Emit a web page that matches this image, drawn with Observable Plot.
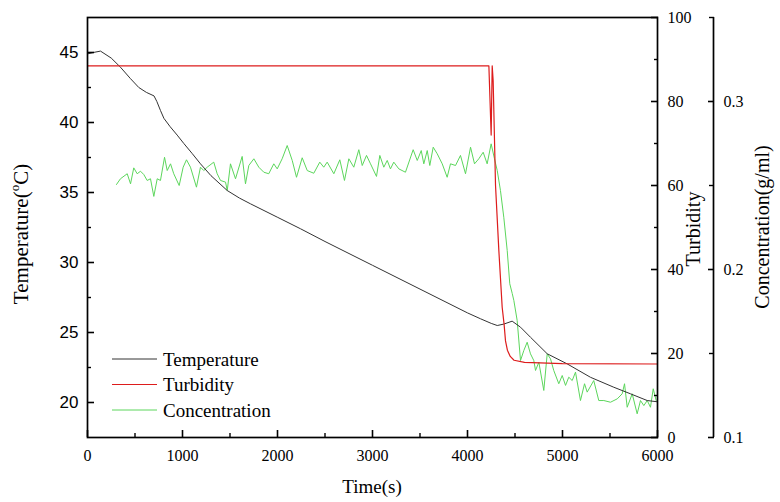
<!DOCTYPE html>
<html><head><meta charset="utf-8">
<script src="https://cdn.jsdelivr.net/npm/d3@7"></script>
<script src="https://cdn.jsdelivr.net/npm/@observablehq/plot@0.6"></script>
<style>
body{margin:0;background:#fff;}
#wrap{position:relative;width:780px;height:502px;}
</style></head><body><div id="wrap"></div>
<script>
// ---- data ----
const tempTime = [0,60,137,250,347,450,540,620,700,730,768,804,870,944,1014,1100,1189,1300,1471,1600,1716,1997,2242,2500,3000,3500,4000,4137,4250,4313,4382,4470,4558,4663,4839,5049,5295,5540,5716,5892,6000];
const tempValues = [44.9,45.0,45.1,44.6,43.95,43.15,42.5,42.15,41.9,41.5,40.86,40.3,39.7,39.1,38.5,37.8,37.05,36.2,35.14,34.6,34.19,33.24,32.41,31.5,29.8,28.1,26.4,25.98,25.65,25.5,25.6,25.81,25.38,24.66,23.48,22.76,21.8,21.09,20.62,20.14,20.05];

const turbTime = [0,4225,4249,4260,4270,4295,4330,4365,4385,4400,4420,4450,4490,4600,5000,6000];
const turbValues = [88.5,88.5,72,88.5,85,60,44.5,31,27,23,20.8,19.3,18.4,17.9,17.6,17.5];

const concTime = [305,347,418,453,487,523,558,593,628,663,698,734,768,811,839,874,908,965,1007,1042,1084,1147,1189,1224,1260,1329,1365,1400,1453,1471,1505,1558,1628,1663,1698,1751,1803,1856,1908,1961,1997,2049,2102,2155,2200,2260,2313,2382,2445,2487,2523,2593,2656,2705,2751,2803,2856,2892,2937,2979,3042,3077,3119,3155,3189,3224,3277,3347,3428,3471,3513,3540,3576,3603,3639,3681,3734,3786,3821,3874,3926,3979,4032,4074,4119,4165,4207,4249,4284,4313,4347,4382,4418,4445,4471,4488,4523,4558,4593,4628,4663,4698,4716,4751,4803,4839,4874,4908,4961,4997,5032,5066,5102,5137,5189,5232,5260,5329,5382,5435,5505,5576,5628,5653,5681,5734,5786,5821,5856,5892,5926,5955,5986];
const concValues = [.2506,.2540,.2570,.2510,.2605,.2570,.2585,.2565,.2530,.2540,.2435,.2540,.2530,.2668,.2589,.2629,.2570,.2500,.2609,.2653,.2609,.2490,.2609,.2589,.2609,.2639,.2570,.2530,.2520,.2470,.2629,.2540,.2673,.2510,.2619,.2659,.2609,.2579,.2570,.2629,.2599,.2659,.2738,.2649,.2549,.2665,.2589,.2573,.2639,.2609,.2639,.2570,.2653,.2530,.2659,.2609,.2713,.2619,.2679,.2629,.2554,.2679,.2609,.2649,.2599,.2639,.2599,.2579,.2713,.2649,.2708,.2629,.2708,.2619,.2728,.2689,.2629,.2549,.2629,.2619,.2679,.2570,.2728,.2629,.2659,.2698,.2629,.2748,.2659,.2589,.2470,.2311,.2113,.1915,.1857,.1815,.1696,.1458,.1518,.1567,.1498,.1458,.1399,.1448,.1280,.1498,.1468,.1399,.1320,.1369,.1310,.1359,.1339,.1389,.1220,.1320,.1270,.1339,.1220,.1220,.1210,.1230,.1260,.1320,.1180,.1260,.1141,.1220,.1190,.1220,.1180,.1290,.1220];

const xTicks = [0,1000,2000,3000,4000,5000,6000];
const xMinorTicks = [500,1500,2500,3500,4500,5500];
const tempTicks = [20,25,30,35,40,45];
const tempMinorTicks = [22.5,27.5,32.5,37.5,42.5];
const turbTicks = [0,20,40,60,80,100];
const turbMinorTicks = [10,30,50,70,90];
const concTicks = [0.1,0.2,0.3];
const concMinorTicks = [0.15,0.25,0.35];

const seriesNames = ["Temperature","Turbidity","Concentration"];
const seriesColors = ["#333333","#dd1c1c","#5cd65c"];

// ---- secondary axes mapped onto the temperature domain ----
const tDom = [17.5,47.5], turbDom = [0,100], concDom = [0.1,0.35];
const fromTurb = v => tDom[0] + (v - turbDom[0]) * (tDom[1]-tDom[0])/(turbDom[1]-turbDom[0]);
const toTurb = y => turbDom[0] + (y - tDom[0]) * (turbDom[1]-turbDom[0])/(tDom[1]-tDom[0]);
const fromConc = v => tDom[0] + (v - concDom[0]) * (tDom[1]-tDom[0])/(concDom[1]-concDom[0]);
const toConc = y => concDom[0] + (y - tDom[0]) * (concDom[1]-concDom[0])/(tDom[1]-tDom[0]);

const temp = tempTime.map((t,i)=>({t, v: tempValues[i]}));
const turb = turbTime.map((t,i)=>({t, v: fromTurb(turbValues[i])}));
const conc = concTime.map((t,i)=>({t, v: fromConc(concValues[i])}));

const serif = "Liberation Serif, Times New Roman, serif";
const sans = "Liberation Sans, Arial, sans-serif";
const blank = () => "";
const concOffset = 56;

const plot = Plot.plot({
  width: 780, height: 502,
  marginLeft: 87, marginRight: 123, marginTop: 17, marginBottom: 65,
  x: {domain: [0,6000]},
  y: {domain: tDom},
  style: {fontFamily: serif, fontSize: "16px", color: "#000", background: "white", overflow: "visible"},
  marks: [
    Plot.line(conc, {x: "t", y: "v", stroke: seriesColors[2], strokeWidth: 1}),
    Plot.line(temp, {x: "t", y: "v", stroke: seriesColors[0], strokeWidth: 1}),
    Plot.line(turb, {x: "t", y: "v", stroke: seriesColors[1], strokeWidth: 1.2}),
    Plot.frame({stroke: "#000", strokeWidth: 1.7}),
    Plot.ruleX([6000], {dx: concOffset, stroke: "#000", strokeWidth: 1.7}),
    // bottom axis: inward ticks + labels
    Plot.axisX(xTicks, {tickSize: 7, dy: -7, tickFormat: blank, label: null, strokeWidth: 1.6}),
    Plot.axisX(xMinorTicks, {tickSize: 4, dy: -4, tickFormat: blank, label: null, strokeWidth: 1.4}),
    Plot.axisX(xTicks, {tickSize: 0, tickPadding: 12, label: null, fontFamily: serif, fontSize: 16, tickFormat: d => String(d)}),
    // left axis
    Plot.axisY(tempTicks, {anchor: "left", tickSize: 7, dx: 7, tickFormat: blank, label: null, strokeWidth: 1.6}),
    Plot.axisY(tempMinorTicks, {anchor: "left", tickSize: 4, dx: 4, tickFormat: blank, label: null, strokeWidth: 1.4}),
    Plot.axisY(tempTicks, {anchor: "left", tickSize: 0, tickPadding: 9, label: null, fontFamily: sans, fontSize: 17}),
    // turbidity axis (right)
    Plot.axisY(turbTicks.map(fromTurb), {anchor: "right", tickSize: 7, dx: -7, tickFormat: blank, label: null, strokeWidth: 1.6}),
    Plot.axisY(turbMinorTicks.map(fromTurb), {anchor: "right", tickSize: 4, dx: -4, tickFormat: blank, label: null, strokeWidth: 1.4}),
    Plot.axisY(turbTicks.map(fromTurb), {anchor: "right", tickSize: 0, tickPadding: 10, label: null, fontFamily: serif, fontSize: 16, tickFormat: d => String(Math.round(toTurb(d)))}),
    // concentration axis (offset right)
    Plot.axisY(concTicks.map(fromConc), {anchor: "right", tickSize: 6, dx: concOffset - 6, tickFormat: blank, label: null, strokeWidth: 1.6}),
    Plot.axisY(concMinorTicks.map(fromConc), {anchor: "right", tickSize: 5, dx: concOffset - 5, tickFormat: blank, label: null, strokeWidth: 1.4}),
    Plot.axisY(concTicks.map(fromConc), {anchor: "right", tickSize: 0, tickPadding: 10, dx: concOffset, label: null, fontFamily: serif, fontSize: 16, tickFormat: d => toConc(d).toFixed(1)})
  ]
});

document.getElementById("wrap").appendChild(plot);
const svg = d3.select(plot);

// axis titles
const t1 = svg.append("text").attr("transform","translate(28,234) rotate(-90)")
  .attr("text-anchor","middle").attr("font-family",serif).attr("font-size",21).attr("fill","#000");
t1.append("tspan").text("Temperature(");
t1.append("tspan").attr("font-size",13).attr("dy",-9).text("o");
t1.append("tspan").attr("dy",9).text("C)");

svg.append("text").attr("transform","translate(700,229) rotate(-90)")
  .attr("text-anchor","middle").attr("font-family",serif).attr("font-size",20).attr("fill","#000").text("Turbidity");
svg.append("text").attr("transform","translate(769,227) rotate(-90)")
  .attr("text-anchor","middle").attr("font-family",serif).attr("font-size",20).attr("fill","#000").text("Concentration(g/ml)");
svg.append("text").attr("x",372).attr("y",493)
  .attr("text-anchor","middle").attr("font-family",serif).attr("font-size",19).attr("fill","#000").text("Time(s)");

// legend
const lg = svg.append("g");
seriesNames.forEach((name,i) => {
  const y = 359 + i*25.5;
  lg.append("line").attr("x1",112).attr("x2",157).attr("y1",y).attr("y2",y)
    .attr("stroke",seriesColors[i]).attr("stroke-width",1);
  lg.append("text").attr("x",163).attr("y",y).attr("dy","0.35em").attr("text-anchor","start")
    .attr("font-family",serif).attr("font-size",19).attr("fill","#000").text(name);
});
</script>
</body></html>
